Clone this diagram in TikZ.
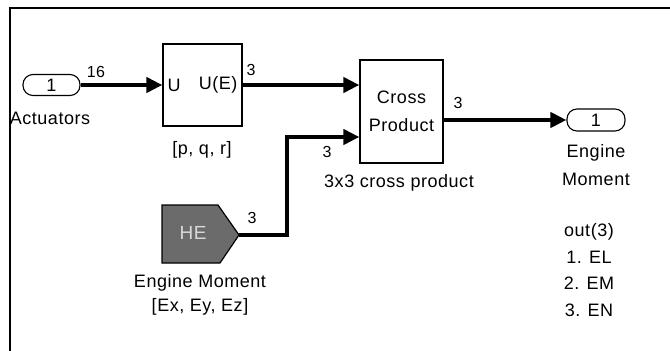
\documentclass[tikz,border=0pt]{standalone}
\usepackage{fontspec}
\setmainfont{Liberation Sans}[LetterSpace=3]
\usetikzlibrary{arrows.meta}
\begin{document}
\begin{tikzpicture}[x=1pt,y=-1pt,
  font=\fontsize{18}{20}\selectfont,
  sig/.style={line width=4pt,-{Triangle[length=16pt,width=15pt]}},
  port/.style={draw,line width=1.1pt,rounded corners=10pt,minimum width=57pt,minimum height=21pt,inner sep=0pt},
  blk/.style={draw,line width=1.2pt,inner sep=0pt},
  lbl/.style={inner sep=0pt},
  num/.style={inner sep=0pt,font=\fontsize{16}{18}\selectfont}]
\useasboundingbox (0,0) rectangle (670,351);
\draw[line width=1.2pt] (10,351) -- (10,8) -- (670,8);

% inport
\node[port] (in1) at (51.5,85) {1};
\node[lbl] (actl) at (50,118) {Actuators};

% U U(E) block
\node[blk,minimum width=79pt,minimum height=82pt] (ue) at (202.5,85) {};
\node[lbl,anchor=west] (uin) at ([xshift=5pt]ue.west) {U};
\node[lbl,anchor=east] (uout) at ([xshift=-5pt]ue.east) {U(E)};
\node[lbl] (pqr) at (202,150) {[p, q, r]};

% cross product block
\node[blk,minimum width=83pt,minimum height=103pt,align=center,font=\fontsize{18}{28}\selectfont] (cp) at (401.5,111.5) {Cross\\Product};
\node[lbl] (cpl) at (399,183) {3x3 cross product};

% outport
\node[port,minimum width=58pt,minimum height=22pt] (out1) at (596,120) {1};
\node[lbl,align=center,font=\fontsize{18}{28}\selectfont] (outl) at (596,165) {Engine\\Moment};

% HE goto-from block
\coordinate (hetip) at (239,235);
\fill[black!58] (162,205) -- (218,205) -- (hetip) -- (220,263) -- (162,263) -- cycle;
\draw[line width=1.2pt] (162,205) -- (218,205) -- (hetip) -- (220,263) -- (162,263) -- cycle;
\node[lbl,text=white!85!black,font=\fontsize{19}{20}\selectfont] (het) at (193,233) {HE};
\node[lbl,align=center,font=\fontsize{18}{24}\selectfont] (hel) at (200,295) {Engine Moment\\{}{[Ex, Ey, Ez]}};

% out(3) notes
\node[lbl,align=center,font=\fontsize{18}{26.7}\selectfont] (notes) at (589,270) {out(3)\\1. EL\\2. EM\\3. EN};

% connectors
\draw[sig] (in1.east) -- (ue.west);
\draw[sig] (ue.east) -- ([yshift=26.5pt]cp.west);
\draw[sig] (hetip) -| (287,137) -- ([yshift=-25.5pt]cp.west);
\draw[sig] ([yshift=-8.5pt]cp.east) -- (out1.west);

% width labels
\node[num] (n16) at (96,72) {16};
\node[num] (n3a) at (251,70) {3};
\node[num] (n3b) at (458,103) {3};
\node[num] (n3c) at (327,152) {3};
\node[num] (n3d) at (252,218) {3};
\end{tikzpicture}
\end{document}
